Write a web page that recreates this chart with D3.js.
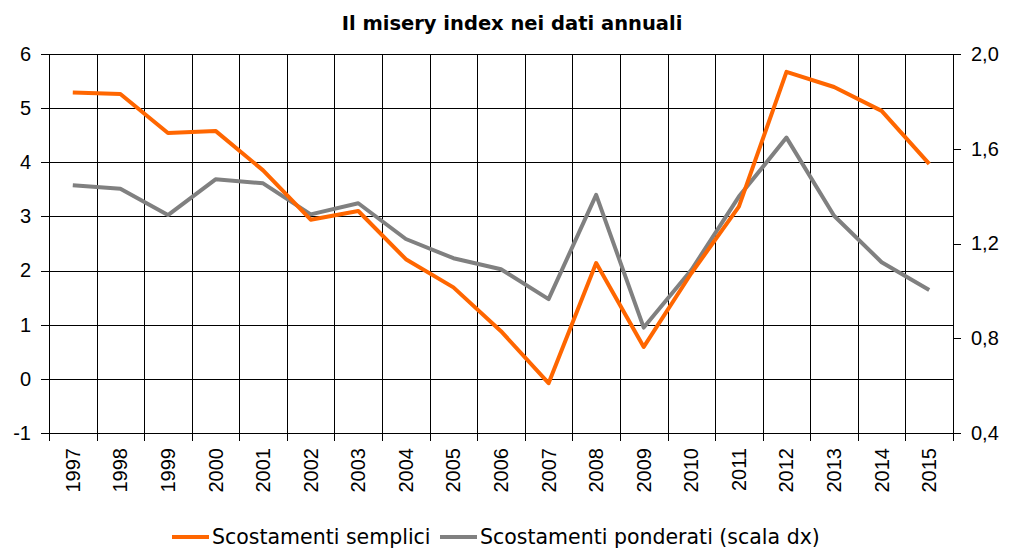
<!doctype html>
<html>
  <head>
    <meta charset="utf-8">
    <title>Il misery index nei dati annuali</title>
    <script src="https://cdnjs.cloudflare.com/ajax/libs/d3/7.8.5/d3.min.js"></script>
    <style>
      body { margin: 0; background: #fff; }
      .tick text { font-family: "Liberation Sans", Arial, sans-serif; fill: #000; }
    </style>
  </head>
  <body>
    <div id="chart"></div>
    <script>
      // data
      const years = ['1997','1998','1999','2000','2001','2002','2003','2004','2005','2006',
                     '2007','2008','2009','2010','2011','2012','2013','2014','2015'];
      const semplici = [5.29, 5.26, 4.54, 4.58, 3.85, 2.94, 3.10, 2.21, 1.69, 0.88,
                        -0.08, 2.14, 0.59, 1.95, 3.18, 5.67, 5.39, 4.95, 3.97];
      const ponderati = [1.446, 1.431, 1.320, 1.471, 1.454, 1.323, 1.370, 1.219, 1.138, 1.091,
                         0.965, 1.405, 0.845, 1.088, 1.398, 1.647, 1.317, 1.121, 1.004];
      const leftTicks = [-1, 0, 1, 2, 3, 4, 5, 6];
      const rightTicks = [0.4, 0.8, 1.2, 1.6, 2.0];

      const W = 1009, H = 549;
      const m = {left: 49, right: 56, top: 54, bottom: 116};

      const svg = d3.select('#chart').append('svg')
        .attr('width', W).attr('height', H);

      const x = d3.scaleBand().domain(years).range([m.left, W - m.right]);
      const yL = d3.scaleLinear().domain([-1, 6]).range([H - m.bottom, m.top]);
      const yR = d3.scaleLinear().domain([0.4, 2.0]).range([H - m.bottom, m.top]);

      // grid
      const grid = svg.append('g').attr('stroke', '#000').attr('stroke-width', 1)
        .attr('shape-rendering', 'crispEdges');
      grid.selectAll('.h').data(leftTicks).join('line')
        .attr('x1', m.left).attr('x2', W - m.right)
        .attr('y1', d => Math.round(yL(d)) + 0.5).attr('y2', d => Math.round(yL(d)) + 0.5);
      grid.selectAll('.v').data(years.slice(1)).join('line')
        .attr('x1', d => Math.round(x(d)) + 0.5).attr('x2', d => Math.round(x(d)) + 0.5)
        .attr('y1', m.top).attr('y2', H - m.bottom);

      // axes
      const axL = svg.append('g').attr('transform', `translate(${m.left},0)`)
        .call(d3.axisLeft(yL).tickValues(leftTicks).tickSize(8).tickPadding(10)
          .tickFormat(d => String(d)));
      const axR = svg.append('g').attr('transform', `translate(${W - m.right},0)`)
        .call(d3.axisRight(yR).tickValues(rightTicks).tickSize(8).tickPadding(10)
          .tickFormat(d => d3.format('.1f')(d).replace('.', ',')));
      [axL, axR].forEach(a => {
        a.selectAll('text').attr('font-size', 20);
        a.selectAll('path, line').attr('stroke', '#000').attr('shape-rendering', 'crispEdges');
      });

      // bottom axis: ticks at category boundaries
      const axB = svg.append('g').attr('transform', `translate(0,${H - m.bottom})`);
      axB.append('line').attr('x1', m.left).attr('x2', W - m.right)
        .attr('stroke', '#000').attr('shape-rendering', 'crispEdges');
      axB.selectAll('.tk').data(years.concat(['end'])).join('line')
        .attr('x1', (d, i) => Math.round(m.left + i * x.step()) + 0.5)
        .attr('x2', (d, i) => Math.round(m.left + i * x.step()) + 0.5)
        .attr('y1', 0).attr('y2', 8)
        .attr('stroke', '#000').attr('shape-rendering', 'crispEdges');
      axB.selectAll('text').data(years).join('text')
        .attr('transform', d => `translate(${x(d) + x.bandwidth() / 2 + 7},15) rotate(-90)`)
        .attr('text-anchor', 'end')
        .attr('font-family', '"Liberation Sans", Arial, sans-serif')
        .attr('font-size', 20)
        .text(d => d);

      // lines
      const cx = d => x(d) + x.bandwidth() / 2;
      svg.append('path').datum(ponderati)
        .attr('fill', 'none').attr('stroke', '#808080').attr('stroke-width', 4)
        .attr('stroke-linejoin', 'round')
        .attr('d', d3.line().x((d, i) => cx(years[i])).y(d => yR(d)));
      svg.append('path').datum(semplici)
        .attr('fill', 'none').attr('stroke', '#ff6600').attr('stroke-width', 4)
        .attr('stroke-linejoin', 'round')
        .attr('d', d3.line().x((d, i) => cx(years[i])).y(d => yL(d)));

      // title
      svg.append('text').attr('x', 512).attr('y', 30)
        .attr('text-anchor', 'middle')
        .attr('font-family', '"DejaVu Sans", sans-serif')
        .attr('font-weight', 'bold').attr('font-size', 19.5)
        .text('Il misery index nei dati annuali');

      // legend
      const legend = [
        {name: 'Scostamenti semplici', color: '#ff6600', x: 172},
        {name: 'Scostamenti ponderati (scala dx)', color: '#808080', x: 440}
      ];
      const lg = svg.append('g').selectAll('g').data(legend).join('g')
        .attr('transform', d => `translate(${d.x},537)`);
      lg.append('line').attr('x1', 0).attr('x2', 37).attr('y1', 0).attr('y2', 0)
        .attr('stroke', d => d.color).attr('stroke-width', 4);
      lg.append('text').attr('x', 40).attr('y', 7)
        .attr('font-family', '"DejaVu Sans", sans-serif')
        .attr('font-size', 20.5)
        .text(d => d.name);
    </script>
  </body>
</html>
